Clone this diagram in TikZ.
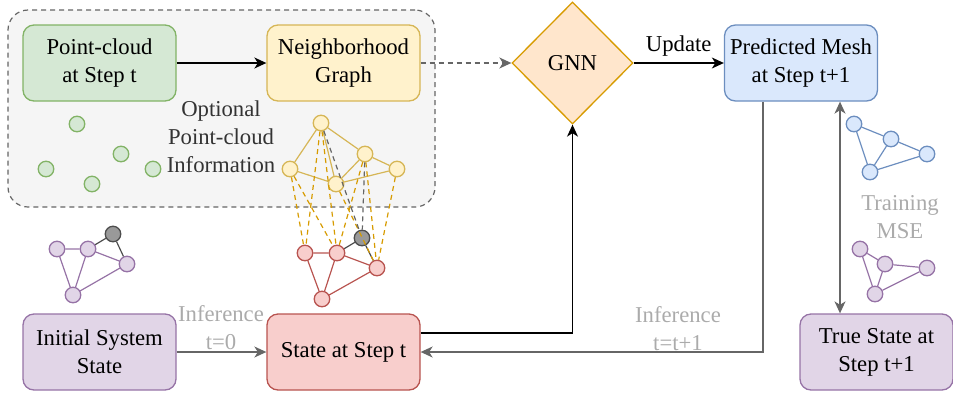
\documentclass[tikz,border=0pt]{standalone}
\usepackage{fontspec}
\setmainfont{Liberation Serif}
\usetikzlibrary{arrows.meta,shapes.geometric}
\definecolor{ctrfill}{HTML}{F5F5F5}
\definecolor{ctrline}{HTML}{666666}
\definecolor{gfill}{HTML}{D5E8D4}\definecolor{gline}{HTML}{82B366}
\definecolor{yfill}{HTML}{FFF2CC}\definecolor{yline}{HTML}{D6B656}
\definecolor{ofill}{HTML}{FFE6CC}\definecolor{oline}{HTML}{D79B00}
\definecolor{bfill}{HTML}{DAE8FC}\definecolor{bline}{HTML}{6C8EBF}
\definecolor{rfill}{HTML}{F8CECC}\definecolor{rline}{HTML}{B85450}
\definecolor{pfill}{HTML}{E1D5E7}\definecolor{pline}{HTML}{9673A6}
\definecolor{grfill}{HTML}{999999}\definecolor{grline}{HTML}{4D4D4D}
\definecolor{lbl}{HTML}{ABABAB}
\definecolor{txt}{HTML}{333333}
\begin{document}
\begin{tikzpicture}[x=1pt,y=-1pt,
  bigfont/.style={font=\fontsize{22.7}{28}\selectfont},
  box/.style={draw, rounded corners=11pt, line width=1.3pt, minimum width=153pt,
    minimum height=76pt, align=center, inner sep=0pt, bigfont},
  tip/.style={-{Stealth[length=12pt,width=11pt,inset=3.5pt]}},
  blackarr/.style={tip, line width=1.4pt, black},
  greyarr/.style={tip, line width=1.4pt, ctrline},
  dashpat/.style={dash pattern=on 5pt off 4pt},
  dot/.style={circle, draw, minimum size=15.5pt, inner sep=0pt, line width=1.3pt},
  gdot/.style={dot, fill=gfill, draw=gline},
  ydot/.style={dot, fill=yfill, draw=yline},
  rdot/.style={dot, fill=rfill, draw=rline},
  bdot/.style={dot, fill=bfill, draw=bline},
  pdot/.style={dot, fill=pfill, draw=pline},
  kdot/.style={dot, fill=grfill, draw=grline},
  lbltext/.style={bigfont, align=center, text=lbl},
]
\useasboundingbox (0,0) rectangle (953,392);

% container
\node[draw=ctrline, fill=ctrfill, dashpat, line width=1.2pt, rounded corners=20pt,
  minimum width=427pt, minimum height=197pt, inner sep=0pt] (cont) at (221.5,108.5) {};
\node[bigfont, align=center, text=txt] (opt) at (221,137) {Optional\\Point-cloud\\Information};

% main boxes
\node[box, fill=gfill, draw=gline] (PC) at (99.5,63) {Point-cloud\\at Step t};
\node[box, fill=yfill, draw=yline] (NG) at (343.5,63) {Neighborhood\\Graph};
\node[diamond, aspect=1, draw=oline, fill=ofill, line width=1.3pt, minimum width=121pt,
  minimum height=122pt, inner sep=0pt, bigfont] (GNN) at (572.5,63) {GNN};
\node[box, fill=bfill, draw=bline] (PM) at (801,63) {Predicted Mesh\\at Step t+1};
\node[box, fill=pfill, draw=pline] (IS) at (99.5,352) {Initial System\\State};
\node[box, fill=rfill, draw=rline] (ST) at (343.5,352) {State at Step t};
\node[box, fill=pfill, draw=pline] (TS) at (876.5,352) {True State at\\Step t+1};

% connectors
\draw[blackarr] (PC) -- (NG);
\draw[greyarr, dashpat] (NG.east) -- (GNN.west);
\draw[blackarr] (GNN.east) -- (PM.west) node[midway, above=3pt, bigfont, text=black] (upd) {Update};
\draw[blackarr] ([yshift=19pt]ST.east) -| (GNN.south);
\draw[greyarr] ([xshift=-38pt]PM.south) |- (ST.east);
\draw[greyarr] (IS) -- (ST);
\draw[greyarr, {Stealth[length=12pt,width=11pt,inset=3.5pt]}-{Stealth[length=12pt,width=11pt,inset=3.5pt]}]
  ([xshift=39pt]PM.south) -- ([xshift=-36.5pt]TS.north);
\node[lbltext] (inf0) at (221,328) {Inference\\t=0};
\node[lbltext] (inf1) at (678,329) {Inference\\t=t+1};
\node[lbltext] (mse) at (900,217) {Training\\MSE};

% green point cloud
\node[gdot] (g1) at (77,124) {};
\node[gdot] (g2) at (121,154) {};
\node[gdot] (g3) at (46,169) {};
\node[gdot] (g4) at (153,169) {};
\node[gdot] (g5) at (92,184) {};

% yellow / red graph nodes
\node[ydot] (y1) at (321,123) {};
\node[ydot] (y2) at (365,154) {};
\node[ydot] (y3) at (290,169) {};
\node[ydot] (y4) at (397,169) {};
\node[ydot] (y5) at (336,184) {};
\node[kdot] (rk) at (362,238) {};
\node[rdot] (r1) at (305,253) {};
\node[rdot] (r2) at (337,253) {};
\node[rdot] (r3) at (377,268) {};
\node[rdot] (r4) at (322,299) {};
\begin{scope}[line width=1.2pt]
\draw[yline] (y1)--(y3) (y1)--(y5) (y1)--(y2) (y3)--(y5) (y5)--(y2) (y2)--(y4) (y5)--(y4);
\draw[rline] (r1)--(r2) (r1)--(r4) (r2)--(r4) (r2)--(r3) (r3)--(r4);
\draw[grline] (r2)--(rk) (rk)--(r3);
\draw[oline, dashpat] (y3)--(r1) (y3)--(r2) (y1)--(r1) (y1)--(r2) (y5)--(r3)
  (y2)--(r2) (y2)--(r3) (y4)--(r3);
\draw[ctrline, dashpat] (y1)--(rk) (y2)--(rk);
\end{scope}

% left purple graph
\node[kdot] (qk) at (113,234) {};
\node[pdot] (q1) at (57,249) {};
\node[pdot] (q2) at (88,249) {};
\node[pdot] (q3) at (127,264) {};
\node[pdot] (q4) at (73,295) {};
\begin{scope}[line width=1.2pt]
\draw[pline] (q1)--(q2) (q1)--(q4) (q2)--(q4) (q2)--(q3) (q3)--(q4);
\draw[grline] (q2)--(qk) (qk)--(q3);
\end{scope}

% blue graph
\node[bdot] (b1) at (854,124) {};
\node[bdot] (b2) at (891,139) {};
\node[bdot] (b3) at (927,154) {};
\node[bdot] (b4) at (870,172) {};
\draw[bline, line width=1.2pt] (b1)--(b2) (b1)--(b4) (b2)--(b4) (b2)--(b3) (b3)--(b4);

% right purple graph
\node[pdot] (p1) at (860,249) {};
\node[pdot] (p2) at (885,264) {};
\node[pdot] (p3) at (927,268) {};
\node[pdot] (p4) at (875,294) {};
\draw[pline, line width=1.2pt] (p1)--(p2) (p1)--(p4) (p2)--(p4) (p2)--(p3) (p3)--(p4);
\end{tikzpicture}
\end{document}
